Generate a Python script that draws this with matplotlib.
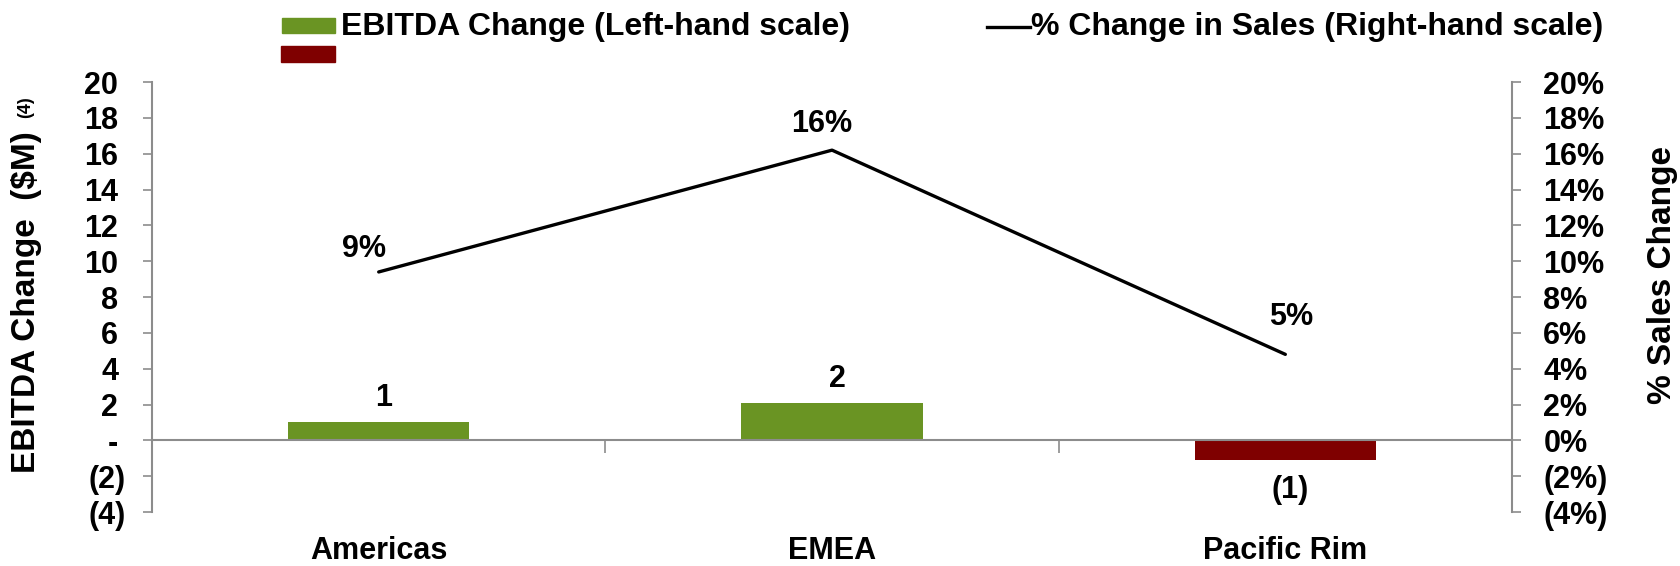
import numpy as np
import matplotlib.pyplot as plt
from matplotlib.patches import Rectangle
from matplotlib.lines import Line2D
from matplotlib.transforms import ScaledTranslation

plt.rcParams['font.family'] = ['Liberation Sans', 'DejaVu Sans']
plt.rcParams['font.weight'] = 'bold'

# regional results
regions = ['Americas', 'EMEA', 'Pacific Rim']
ebitda_change = [1.0, 2.1, -1.1]          # $M, left scale
ebitda_text = ['1', '2', '(1)']
sales_change = [0.094, 0.162, 0.048]      # right scale
sales_text = ['9%', '16%', '5%']

left_ticks = [-4, -2, 0, 2, 4, 6, 8, 10, 12, 14, 16, 18, 20]
left_tick_text = ['(4)', '(2)', '-', '2', '4', '6', '8', '10', '12', '14', '16', '18', '20']
right_ticks = [-0.04, -0.02, 0, 0.02, 0.04, 0.06, 0.08, 0.10, 0.12, 0.14, 0.16, 0.18, 0.20]
right_tick_text = ['(4%)', '(2%)', '0%', '2%', '4%', '6%', '8%', '10%', '12%', '14%', '16%', '18%', '20%']

green = '#6A9423'
red = '#7F0000'
grey = '#8C8C8C'
W, H = 1680, 566

fig = plt.figure(figsize=(W / 100, H / 100), dpi=100)
ax = fig.add_axes([0.0905, 0.0954, 0.8095, 0.7596])
ax2 = ax.twinx()

x = np.arange(len(regions))
colors = [green if v >= 0 else red for v in ebitda_change]
ax.bar(x, ebitda_change, width=0.4, color=colors, zorder=2)

ax.set_xlim(-0.5, 2.5)
ax.set_ylim(-4, 20)
ax2.set_ylim(-0.04, 0.20)

# zero line and category separators
ax.spines['bottom'].set_position(('data', 0))
ax.spines['bottom'].set_color(grey)
ax.spines['bottom'].set_linewidth(1.5)
ax.set_xticks([0.5, 1.5])
ax.set_xticklabels([])
ax.tick_params(axis='x', length=9, width=1.2, color=grey, direction='out')

for a in (ax, ax2):
    a.spines['top'].set_visible(False)
ax2.spines['bottom'].set_visible(False)
ax2.spines['left'].set_visible(False)
ax.spines['right'].set_visible(False)
ax.spines['left'].set_color(grey)
ax.spines['left'].set_linewidth(1.5)
ax2.spines['right'].set_color(grey)
ax2.spines['right'].set_linewidth(1.5)

ax.set_yticks(left_ticks)
ax.set_yticklabels(left_tick_text)
ax.tick_params(axis='y', length=6.5, width=1.2, color=grey, pad=18, labelsize=22)
# parentheses hang past the digits
for lab, t in zip(ax.get_yticklabels(), left_tick_text):
    if t.startswith('('):
        lab.set_transform(lab.get_transform() + ScaledTranslation(8 / 100, 0, fig.dpi_scale_trans))

ax2.set_yticks(right_ticks)
ax2.set_yticklabels(right_tick_text)
ax2.tick_params(axis='y', length=6.5, width=1.2, color=grey, pad=16, labelsize=22)

# sales line
ax2.plot(x, sales_change, color='black', lw=2.4, zorder=3, solid_capstyle='round')

# data labels
for xi, v, t in zip(x, ebitda_change, ebitda_text):
    off = 24 if v >= 0 else -30
    ax.annotate(t, (xi, v), xytext=(5, off), textcoords='offset pixels',
                ha='center', va='center', fontsize=22)

line_offsets = [(-15, 23), (-10, 26), (6, 37)]
for xi, v, t, (dx, dy) in zip(x, sales_change, sales_text, line_offsets):
    ax2.annotate(t, (xi, v), xytext=(dx, dy), textcoords='offset pixels',
                 ha='center', va='center', fontsize=22)

# category names along the bottom edge
fig.canvas.draw()
for xi, name in zip(x, regions):
    px = ax.transData.transform((xi, 0))[0]
    fig.text(px / W, 7 / H, name, ha='center', va='baseline', fontsize=22)

# axis titles
fig.text(27 / W, 1 - 302 / H, 'EBITDA Change  ($M)', rotation=90, ha='center', va='center', fontsize=24)
fig.text(26 / W, 1 - 107 / H, '(4)', rotation=90, ha='center', va='center', fontsize=13)
fig.text(1662 / W, 1 - 275 / H, '% Sales Change', rotation=90, ha='center', va='center', fontsize=24)

# legend
fig.patches.append(Rectangle((282 / W, 1 - 33 / H), 53 / W, 15 / H,
                             transform=fig.transFigure, color=green))
fig.patches.append(Rectangle((281 / W, 1 - 62 / H), 54 / W, 16 / H,
                             transform=fig.transFigure, color=red))
fig.text(341 / W, 1 - 27 / H, 'EBITDA Change (Left-hand scale)', ha='left', va='center', fontsize=23)
fig.lines.append(Line2D([987 / W, 1030 / W], [1 - 27 / H, 1 - 27 / H],
                        transform=fig.transFigure, color='black', lw=2.4))
fig.text(1031 / W, 1 - 27 / H, '% Change in Sales (Right-hand scale)', ha='left', va='center', fontsize=23)

fig.savefig('out.png', dpi=100)
